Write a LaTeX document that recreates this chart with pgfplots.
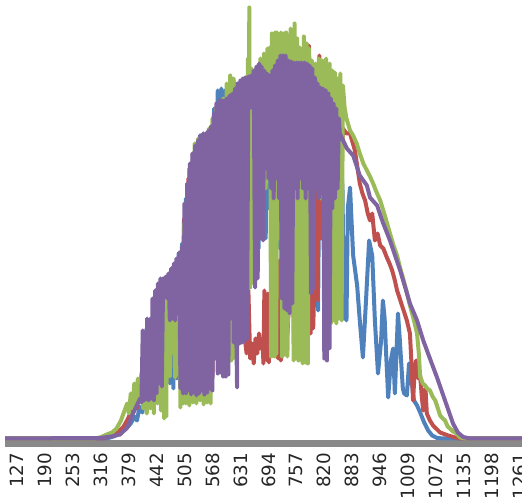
\documentclass[border=0pt]{standalone}
\usepackage{fontspec}
\setmainfont{DejaVu Sans}
\usepackage{pgfplots}
\pgfplotsset{compat=1.18}
\definecolor{sblue}{HTML}{4F81BD}
\definecolor{sred}{HTML}{C0504D}
\definecolor{sgreen}{HTML}{9BBB59}
\definecolor{spurple}{HTML}{8064A2}
\definecolor{axisgray}{HTML}{898989}
\begin{document}
\begin{tikzpicture}
\begin{axis}[
  at={(0,0)}, anchor=south west,
  scale only axis, width=388.5pt, height=332.625pt,
  xmin=100.67, xmax=1267.7, ymin=-5, ymax=438.5,
  axis x line=bottom, axis y line=none,
  x axis line style={-, draw=axisgray, line width=5.2pt},
  xtick={127,190,...,1261},
  xticklabels={127,190,253,316,379,442,505,568,631,694,757,820,883,946,1009,1072,1135,1198,1261},
  major tick length=0pt, xtick style={draw=none},
  xticklabel style={rotate=90, anchor=east, inner sep=0pt, font=\fontsize{13.7}{16}\selectfont, text=black!85},
  xticklabel shift=7pt,
  every axis plot/.append style={line width=3pt, line join=round, line cap=round, mark=none},
]
\coordinate (bl) at (rel axis cs:0,0);
% blue
\addplot[sblue] coordinates {
(100,0) (330,0) (345,2) (360,5) (372,9) (384,15) (392,22) (398,18) (404,32) (410,26) (416,45) (420,110) (424,40) (428,120) (432,50) (436,140) (440,45) (444,150) (448,55) (452,155) (456,48) (460,160) (464,60) (468,160) (472,55) (476,170) (480,50) (484,175) (488,60) (492,185) (496,55) (500,195) (504,60) (508,240) (512,50) (516,270) (520,65) (524,285) (528,55) (532,295) (536,70) (540,303) (544,60) (548,305) (552,80) (556,306) (560,90) (564,305) (568,95) (572,330) (576,85) (580,348) (584,100) (588,350) (592,120) (596,348) (600,130) (604,340) (608,150) (612,345) (616,120) (620,350) (624,160) (628,355) (632,140) (636,358) (640,170) (644,360) (648,180) (652,362) (656,200) (660,365) (664,220) (668,370) (672,190) (676,372) (680,240) (684,368) (688,200) (692,365) (696,230) (700,365) (704,180) (708,372) (712,220) (716,378) (720,190) (724,382) (728,230) (732,380) (736,200) (740,376) (744,240) (748,375) (752,210) (756,376) (760,250) (764,375) (768,220) (772,375) (776,260) (780,374) (784,230) (788,372) (792,265) (796,360) (800,255) (804,268) (806,128) (810,350) (814,200) (818,348) (822,160) (826,345) (830,230) (834,340) (838,200) (842,335) (846,250) (850,325) (855,300) (861,250) (864,120) (867,200) (870,118) (873,230) (878,251) (885,183) (894,153) (900,118) (907,81) (914,138) (921,198) (928,183) (934,118) (941,65) (948,98) (952,138) (956,120) (959,88) (964,41) (970,78) (975,90) (979,45) (983,90) (986,125) (990,100) (993,78) (997,50) (1000,45) (1006,43) (1011,75) (1015,60) (1018,53) (1022,38) (1029,33) (1036,26) (1045,16) (1054,8) (1063,3) (1074,0.5) (1090,0) (1268,0)
};
% red
\addplot[sred] coordinates {
(100,0) (320,0) (340,3) (355,6) (368,12) (378,20) (386,28) (392,42) (398,30) (404,55) (410,40) (416,62) (420,38) (426,92) (430,42) (436,112) (440,45) (446,122) (450,52) (456,138) (460,115) (466,128) (470,118) (474,140) (478,120) (484,160) (488,125) (494,180) (498,48) (504,220) (508,52) (514,260) (518,50) (524,285) (528,55) (534,295) (538,50) (544,300) (548,58) (554,302) (558,52) (564,310) (568,60) (574,330) (578,80) (584,335) (588,75) (594,336) (598,72) (604,340) (608,80) (614,345) (618,90) (624,352) (628,95) (634,355) (637,110) (641,100) (645,85) (649,148) (653,80) (657,95) (661,75) (665,100) (669,85) (673,105) (677,90) (681,95) (683,75) (685,148) (687,80) (689,140) (691,78) (693,145) (695,76) (697,120) (701,110) (705,130) (709,90) (713,150) (716,80) (719,178) (722,78) (725,90) (729,110) (733,95) (737,105) (740,131) (743,201) (746,140) (749,190) (752,100) (757,108) (761,300) (765,95) (769,98) (773,110) (777,95) (781,100) (785,393) (789,105) (792,171) (795,110) (798,160) (801,241) (805,138) (809,383) (813,200) (817,240) (821,180) (825,128) (829,250) (833,115) (837,300) (841,190) (845,320) (849,250) (853,300) (857,260) (862,310) (870,305) (878,305) (889,288) (900,255) (906,245) (912,238) (918,225) (923,218) (928,225) (934,198) (940,205) (946,193) (953,190) (961,181) (967,175) (973,168) (979,158) (984,148) (990,140) (995,133) (1001,125) (1006,118) (1013,105) (1017,70) (1020,38) (1024,70) (1027,78) (1032,60) (1036,63) (1040,40) (1043,28) (1048,50) (1051,25) (1058,18) (1065,13) (1081,6) (1099,3) (1115,1) (1126,0) (1268,0)
};
% green
\addplot[sgreen] coordinates {
(100,0) (300,0) (315,1) (330,4) (342,6) (352,10) (362,18) (370,28) (376,35) (380,25) (384,45) (388,30) (392,55) (396,35) (400,60) (404,40) (408,65) (412,30) (416,80) (420,25) (424,90) (428,30) (432,100) (436,25) (440,130) (444,35) (448,150) (452,28) (456,160) (459,20) (462,150) (464,22) (466,150) (469,120) (472,62) (475,125) (478,150) (481,140) (484,61) (487,130) (490,64) (493,150) (496,31) (499,185) (502,35) (504,215) (508,35) (512,245) (516,33) (520,270) (524,36) (528,295) (532,35) (536,300) (540,38) (544,302) (548,34) (552,305) (556,36) (560,310) (564,35) (568,320) (572,90) (576,330) (580,85) (584,335) (588,80) (592,340) (596,82) (600,355) (604,80) (608,363) (610,78) (612,360) (614,80) (616,360) (620,110) (624,350) (628,100) (632,355) (636,110) (640,360) (644,120) (648,380) (650,151) (651,431) (653,151) (655,370) (657,155) (660,365) (664,220) (668,370) (672,230) (676,380) (680,240) (684,385) (688,250) (692,390) (696,260) (698,391) (700,82) (702,405) (704,85) (706,400) (708,82) (710,406) (712,85) (714,406) (718,200) (722,406) (725,82) (728,405) (731,84) (734,406) (737,82) (740,230) (744,410) (748,220) (751,78) (753,415) (756,80) (759,400) (762,78) (765,391) (768,200) (771,75) (774,402) (777,76) (780,395) (783,75) (786,390) (789,210) (792,378) (796,220) (800,375) (804,250) (808,380) (812,240) (816,378) (820,230) (824,380) (828,250) (832,375) (835,115) (838,368) (841,118) (844,366) (847,115) (850,360) (853,120) (856,365) (859,118) (862,353) (866,330) (870,320) (878,308) (885,303) (893,295) (900,285) (908,275) (916,268) (923,262) (930,255) (938,246) (946,238) (957,222) (968,205) (976,193) (984,183) (990,172) (997,161) (1005,148) (1013,133) (1021,120) (1029,105) (1033,85) (1036,62) (1042,55) (1047,53) (1052,50) (1058,48) (1064,42) (1070,38) (1076,30) (1081,23) (1087,20) (1092,18) (1098,12) (1103,10) (1110,7) (1115,6) (1122,3) (1126,1) (1137,0) (1268,0)
};
% purple
\addplot[spurple] coordinates {
(100,0) (315,0.5) (340,2) (360,4) (376,11) (389,25) (405,40) (408,36) (411,108) (414,38) (418,42) (421,120) (424,38) (427,118) (430,40) (433,140) (436,38) (439,148) (442,45) (445,155) (448,55) (451,160) (454,52) (457,160) (460,150) (463,162) (466,140) (469,165) (472,118) (475,170) (478,120) (481,175) (484,118) (487,180) (490,125) (493,186) (496,50) (499,192) (502,45) (505,235) (508,45) (511,255) (514,48) (517,275) (520,44) (523,285) (526,46) (529,293) (532,43) (535,298) (538,45) (541,303) (544,48) (547,305) (550,44) (553,305) (556,46) (559,308) (562,50) (565,312) (568,48) (571,325) (574,80) (577,335) (580,65) (583,338) (586,66) (589,338) (592,62) (595,338) (598,62) (601,340) (604,64) (607,343) (610,120) (613,345) (616,96) (619,350) (622,98) (623.5,51) (625,355) (628,95) (631,358) (634,96) (637,360) (640,97) (643,361) (646,100) (649,362) (652,330) (655,363) (658,340) (661,368) (664,151) (667,372) (670,160) (673,375) (676,200) (679,372) (682,198) (685,368) (688,270) (691,365) (694,260) (697,363) (700,250) (703,368) (706,240) (709,373) (712,260) (715,378) (718,240) (721,383) (724,140) (727,383) (730,130) (733,383) (736,128) (739,378) (742,125) (745,377) (748,135) (751,376) (754,250) (757,376) (760,240) (763,376) (766,260) (769,376) (772,250) (775,376) (778,240) (781,375) (784,250) (787,373) (790,145) (793,370) (796,150) (799,361) (802,250) (805,355) (808,240) (811,351) (814,260) (817,350) (820,80) (823,348) (826,78) (829,345) (832,90) (835,340) (838,230) (841,335) (844,240) (847,330) (850,250) (853,320) (855,305) (871,290) (885,283) (900,263) (916,253) (923,241) (939,233) (952,216) (968,198) (991,168) (1013,135) (1029,118) (1043,98) (1058,80) (1074,61) (1092,38) (1110,15) (1121,6) (1133,1.5) (1148,0) (1268,0)
};
\end{axis}
\pgfresetboundingbox
\path[use as bounding box] ([shift={(-3.75pt,-41.625pt)}]bl) rectangle ([shift={(387.75pt,332.625pt)}]bl);
\end{tikzpicture}
\end{document}
